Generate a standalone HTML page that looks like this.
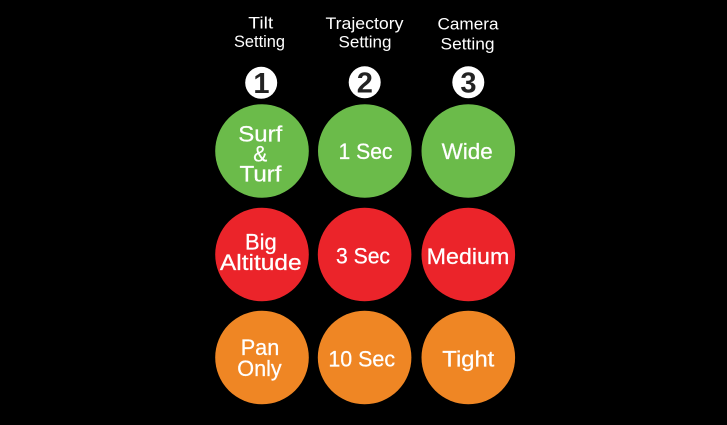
<!DOCTYPE html>
<html>
<head>
<meta charset="utf-8">
<style>
html,body{margin:0;padding:0;background:#000;}
svg{display:block;}
text{font-family:"Liberation Sans","DejaVu Sans",sans-serif;}
.h{fill:#fff;font-size:17px;}
.c{fill:#fff;font-size:22px;stroke:#fff;stroke-width:0.25;}
.n{fill:#222;font-size:29px;font-weight:bold;}
</style>
</head>
<body>
<svg width="727" height="425" viewBox="0 0 727 425" xmlns="http://www.w3.org/2000/svg">
<rect width="727" height="425" fill="#000"/>

<!-- headers -->
<text class="h" x="260.8" y="28.5" text-anchor="middle" textLength="25" lengthAdjust="spacingAndGlyphs">Tilt</text>
<text class="h" x="259.5" y="47" text-anchor="middle" textLength="51" lengthAdjust="spacingAndGlyphs">Setting</text>
<text class="h" x="364.5" y="29" text-anchor="middle" textLength="78" lengthAdjust="spacingAndGlyphs">Trajectory</text>
<text class="h" x="365" y="47.5" text-anchor="middle" textLength="53" lengthAdjust="spacingAndGlyphs">Setting</text>
<text class="h" x="468" y="29.5" text-anchor="middle" textLength="61" lengthAdjust="spacingAndGlyphs">Camera</text>
<text class="h" x="467.5" y="49.5" text-anchor="middle" textLength="54" lengthAdjust="spacingAndGlyphs">Setting</text>

<!-- number badges -->
<circle cx="261.2" cy="82.8" r="16" fill="#fff"/>
<circle cx="364.7" cy="82.3" r="16" fill="#fff"/>
<circle cx="468.3" cy="82.3" r="16" fill="#fff"/>
<text class="n" x="261.5" y="93.2" text-anchor="middle">1</text>
<text class="n" x="364.8" y="92.7" text-anchor="middle">2</text>
<text class="n" x="468.4" y="92.7" text-anchor="middle">3</text>

<!-- row 1 green -->
<circle cx="262" cy="151" r="46.8" fill="#6bbb4a"/>
<circle cx="364.8" cy="151" r="46.8" fill="#6bbb4a"/>
<circle cx="468.3" cy="151" r="46.8" fill="#6bbb4a"/>
<text class="c" x="260.3" y="141.7" text-anchor="middle" textLength="44" lengthAdjust="spacingAndGlyphs">Surf</text>
<text class="c" x="260.3" y="161.7" text-anchor="middle" textLength="14" lengthAdjust="spacingAndGlyphs">&amp;</text>
<text class="c" x="260.5" y="181.7" text-anchor="middle" textLength="42" lengthAdjust="spacingAndGlyphs">Turf</text>
<text class="c" x="365.5" y="158.8" text-anchor="middle" textLength="54" lengthAdjust="spacingAndGlyphs">1 Sec</text>
<text class="c" x="467.2" y="158.8" text-anchor="middle" textLength="51" lengthAdjust="spacingAndGlyphs">Wide</text>

<!-- row 2 red -->
<circle cx="262" cy="254.5" r="46.8" fill="#eb242a"/>
<circle cx="364.6" cy="254.5" r="46.8" fill="#eb242a"/>
<circle cx="468.3" cy="254.5" r="46.8" fill="#eb242a"/>
<text class="c" x="260.8" y="249.5" text-anchor="middle" textLength="31.7" lengthAdjust="spacingAndGlyphs">Big</text>
<text class="c" x="260.8" y="270" text-anchor="middle" textLength="81.7" lengthAdjust="spacingAndGlyphs">Altitude</text>
<text class="c" x="363" y="263.5" text-anchor="middle" textLength="54" lengthAdjust="spacingAndGlyphs">3 Sec</text>
<text class="c" x="468" y="264" text-anchor="middle" textLength="82.6" lengthAdjust="spacingAndGlyphs">Medium</text>

<!-- row 3 orange -->
<circle cx="262" cy="357.5" r="46.8" fill="#ef8624"/>
<circle cx="364.6" cy="357.5" r="46.8" fill="#ef8624"/>
<circle cx="468.3" cy="357.5" r="46.8" fill="#ef8624"/>
<text class="c" x="260" y="355" text-anchor="middle" textLength="38.6" lengthAdjust="spacingAndGlyphs">Pan</text>
<text class="c" x="259.5" y="376" text-anchor="middle" textLength="44.4" lengthAdjust="spacingAndGlyphs">Only</text>
<text class="c" x="361.7" y="366.7" text-anchor="middle" textLength="66.7" lengthAdjust="spacingAndGlyphs">10 Sec</text>
<text class="c" x="468.3" y="366.7" text-anchor="middle" textLength="52" lengthAdjust="spacingAndGlyphs">Tight</text>
</svg>
</body>
</html>
